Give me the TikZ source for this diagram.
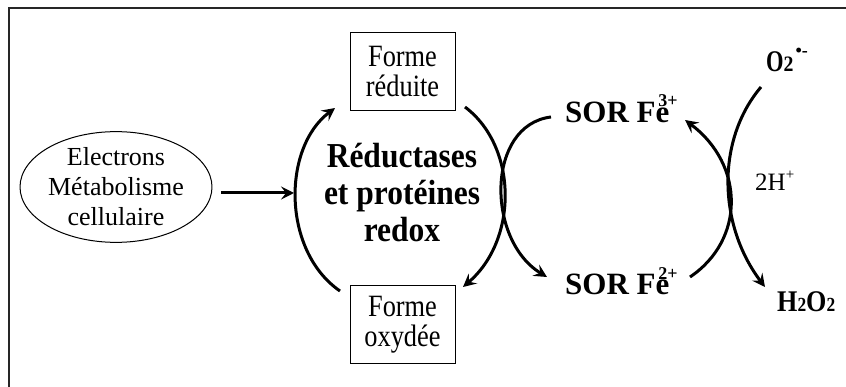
\documentclass[tikz,border=0pt]{standalone}
\usepackage{fontspec}
\setmainfont{Liberation Serif}
\newfontfamily\rgA{Liberation Serif}
\newfontfamily\rgB[FakeStretch=0.85]{Liberation Serif}
\newfontfamily\bdA[FakeStretch=0.9]{Liberation Serif}
\newfontfamily\bdB[FakeStretch=0.75]{Liberation Serif}
\newfontfamily\bdC[FakeStretch=0.87]{Liberation Serif}
\usetikzlibrary{shapes.geometric,arrows.meta}
\newcommand\supfe[1]{\kern-11pt\raisebox{16pt}{\fontsize{18}{18}\selectfont #1}}
\tikzset{
  boxn/.style={draw, line width=1pt, minimum width=105pt, minimum height=78pt, inner sep=0pt,
    align=center, font=\rgB\fontsize{31}{30}\selectfont},
  ellnode/.style={draw, ellipse, line width=1pt, minimum width=191pt, minimum height=109pt, inner sep=0pt,
    align=center, font=\rgA\fontsize{26}{30}\selectfont},
  bigbold/.style={inner sep=0pt, align=center, font=\bdA\bfseries\fontsize{35}{37}\selectfont},
  sorbold/.style={inner sep=0pt, anchor=base west, font=\rgA\bfseries\fontsize{31}{31}\selectfont},
  txt/.style={inner sep=0pt, anchor=base west},
  arr/.style={line width=3pt, -{Stealth[length=13pt,width=13pt,inset=5pt]}},
  frame/.style={line width=1.5pt, draw=black!85},
}
\begin{document}
\begin{tikzpicture}[x=1pt,y=-1pt]
\useasboundingbox (0,0) rectangle (846,387);
\draw[frame] (9,387) -- (9,8) -- (846,8);

\node[ellnode] (ell) at (116,187) {Electrons\\Métabolisme\\cellulaire};
\node[boxn] (fr) at (402.5,72) {Forme\\réduite};
\node[boxn] (fo) at (402.5,324.5) {Forme\\oxydée};
\node[bigbold] (red) at (402,193) {Réductases\\et protéines\\redox};

\node[sorbold] (sor3) at (565,123) {SOR Fe\supfe{3+}};
\node[sorbold] (sor2) at (565,295) {SOR Fe\supfe{2+}};
\node[txt, font=\bdB\bfseries\fontsize{30}{30}\selectfont] (o2) at (766,72)
  {O{\bdA\fontsize{22}{22}\selectfont 2}\kern2pt\raisebox{15pt}{\rgA\fontsize{18}{18}\selectfont •-}};
\node[txt, font=\bdC\bfseries\fontsize{30}{30}\selectfont] (h2o2) at (777,312)
  {H{\fontsize{20}{20}\selectfont 2}O{\fontsize{20}{20}\selectfont 2}};
\node[txt, font=\rgA\fontsize{25}{25}\selectfont] (hplus) at (755,191)
  {2H\raisebox{11pt}{\fontsize{15}{15}\selectfont +}};

% electrons arrow
\coordinate (a1) at (221,193);
\coordinate (a2) at (294,193);
\draw[arr] (a1) -- (a2);

% left bracket: oxydee -> reduite
\coordinate (lb1) at (340,291);
\coordinate (lb2) at (335,108);
\draw[arr] (lb1) .. controls (282,251) and (282,148) .. (lb2);

% right bracket: reduite -> oxydee
\coordinate (rb1) at (465,107);
\coordinate (rb2) at (463,287);
\draw[arr] (rb1) .. controls (518,147) and (518,240) .. (rb2);

% SOR Fe3+ -> SOR Fe2+
\coordinate (s1) at (551,117);
\coordinate (s2) at (547,277);
\draw[arr] (s1) .. controls (486,125) and (486,240) .. (s2);

% O2 -> H2O2
\coordinate (o1) at (761,87);
\coordinate (o3) at (765,287);
\draw[arr] (o1) .. controls (716,140) and (718,225) .. (o3);

% SOR Fe2+ -> SOR Fe3+
\coordinate (f1) at (690,277);
\coordinate (f2) at (685,120);
\draw[arr] (f1) .. controls (745,240) and (745,165) .. (f2);
\end{tikzpicture}
\end{document}
